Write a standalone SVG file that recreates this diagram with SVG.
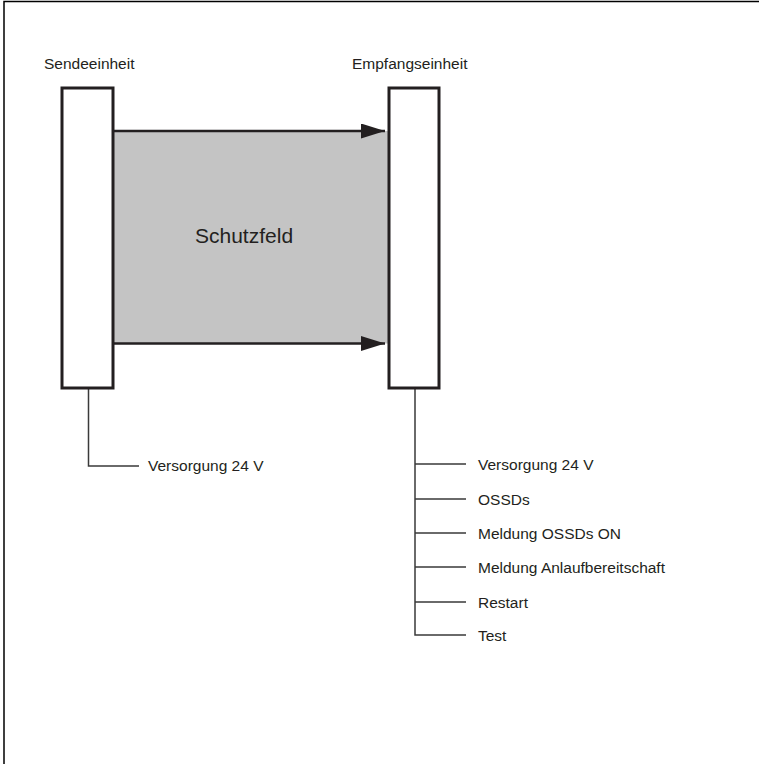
<svg xmlns="http://www.w3.org/2000/svg" width="759" height="764" viewBox="0 0 759 764">
  <style>
    .unit { fill: #ffffff; stroke: #231f20; stroke-width: 3; }
    .field { fill: #c4c4c4; stroke: none; }
    .beam { stroke: #231f20; stroke-width: 2.6; fill: none; }
    .wire { stroke: #3a3a3a; stroke-width: 1.5; fill: none; }
    .frame { stroke: #000000; stroke-width: 1.5; fill: none; }
    text { font-family: "Liberation Sans", Arial, sans-serif; fill: #231f20; }
    .lbl { font-size: 15.5px; }
    .big { font-size: 21px; }
  </style>
  <defs>
    <marker id="head" markerWidth="24" markerHeight="15" refX="24" refY="7.5" orient="auto" markerUnits="userSpaceOnUse">
      <path d="M0,0 L24,7.5 L0,15 Z" fill="#231f20"/>
    </marker>
  </defs>

  <!-- outer frame (top and left edges) -->
  <path class="frame" d="M4,764 V1.5 H759"/>

  <!-- protective field between the two units -->
  <g id="schutzfeld">
    <rect class="field" x="114" y="131" width="274" height="212.5"/>
    <text class="big" x="195" y="243">Schutzfeld</text>
  </g>

  <g id="connectors">
    <line class="beam" x1="114" y1="131" x2="385" y2="131" marker-end="url(#head)"/>
    <line class="beam" x1="114" y1="343.5" x2="385" y2="343.5" marker-end="url(#head)"/>
    <!-- transmitter supply -->
    <path class="wire" d="M88.5,389 V466 H139"/>
    <!-- receiver bus -->
    <path class="wire" d="M415,389 V635 H466"/>
    <path class="wire" d="M415,464 H466 M415,499 H466 M415,533 H466 M415,567 H466 M415,602 H466"/>
  </g>

  <g id="sendeeinheit">
    <rect class="unit" x="62" y="88" width="51" height="300"/>
    <text class="lbl" x="44" y="69">Sendeeinheit</text>
  </g>

  <g id="empfangseinheit">
    <rect class="unit" x="389" y="88" width="50" height="300"/>
    <text class="lbl" x="352" y="69">Empfangseinheit</text>
  </g>

  <g id="labels">
    <text class="lbl" x="148" y="471">Versorgung 24 V</text>
    <text class="lbl" x="478" y="470">Versorgung 24 V</text>
    <text class="lbl" x="478" y="505">OSSDs</text>
    <text class="lbl" x="478" y="539">Meldung OSSDs ON</text>
    <text class="lbl" x="478" y="573">Meldung Anlaufbereitschaft</text>
    <text class="lbl" x="478" y="608">Restart</text>
    <text class="lbl" x="478" y="641">Test</text>
  </g>
</svg>
